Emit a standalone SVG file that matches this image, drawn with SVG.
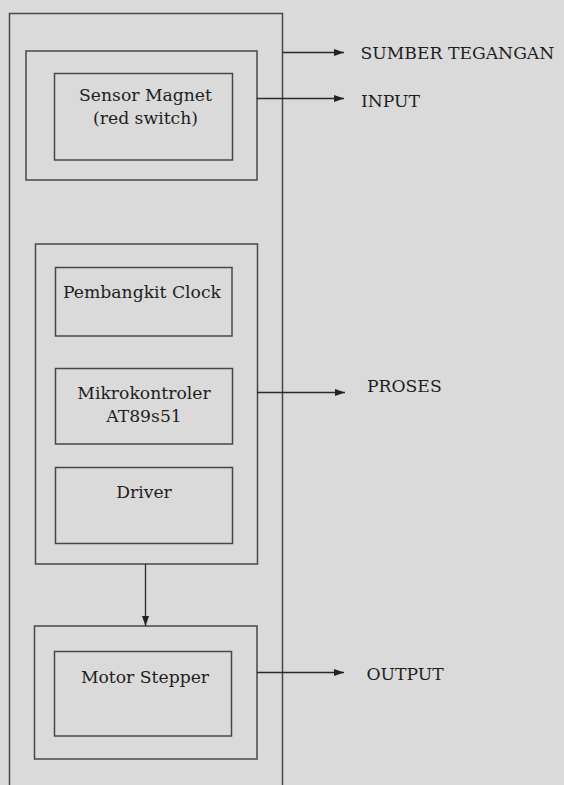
<svg xmlns="http://www.w3.org/2000/svg" width="564" height="785" viewBox="0 0 564 785">
<defs>
<style>
.box{fill:none;stroke:#474747;stroke-width:1.5}
.ln{fill:none;stroke:#2a2a2a;stroke-width:1.3}
.t{font-family:"DejaVu Serif","Liberation Serif",serif;font-size:17.2px;fill:#1e1e1e}
.c{text-anchor:middle}
</style>
<marker id="ah" viewBox="0 0 10 10" refX="10" refY="5" markerWidth="10" markerHeight="10" markerUnits="userSpaceOnUse" orient="auto">
<path d="M0,1.5 L10,5 L0,8.5 Z" fill="#222"/>
</marker>
</defs>
<rect width="564" height="785" fill="#dadada"/>
<g id="sumber-tegangan">
<rect class="box" x="9.5" y="13.5" width="273" height="800"/>
</g>
<g id="input">
<rect class="box" x="26" y="51" width="231" height="129"/>
</g>
<g id="sensor-magnet">
<rect class="box" x="54.5" y="73.5" width="178" height="86.5"/>
<text class="t c" x="145.5" y="101">Sensor Magnet</text>
<text class="t c" x="145.5" y="124">(red switch)</text>
</g>
<g id="proses">
<rect class="box" x="35.5" y="244" width="222" height="320"/>
</g>
<g id="pembangkit-clock">
<rect class="box" x="55.5" y="267.5" width="176.5" height="68.5"/>
<text class="t c" x="142" y="298">Pembangkit Clock</text>
</g>
<g id="mikrokontroler">
<rect class="box" x="55.5" y="368.5" width="177" height="75.5"/>
<text class="t c" x="144" y="399">Mikrokontroler</text>
<text class="t c" x="144" y="422">AT89s51</text>
</g>
<g id="driver">
<rect class="box" x="55.5" y="467.5" width="177" height="76"/>
<text class="t c" x="144" y="498">Driver</text>
</g>
<g id="output">
<rect class="box" x="34.5" y="626" width="222.5" height="133"/>
</g>
<g id="motor-stepper">
<rect class="box" x="54.5" y="651.5" width="177" height="84.5"/>
<text class="t c" x="145" y="683">Motor Stepper</text>
</g>
<g id="labels">
<text class="t" x="360.5" y="58.5">SUMBER TEGANGAN</text>
<text class="t" x="361" y="107">INPUT</text>
<text class="t" x="367" y="392">PROSES</text>
<text class="t" x="366.5" y="680">OUTPUT</text>
</g>
<g id="connectors">
<line class="ln" x1="283" y1="52.5" x2="344" y2="52.5" marker-end="url(#ah)"/>
<line class="ln" x1="257" y1="98.5" x2="344" y2="98.5" marker-end="url(#ah)"/>
<line class="ln" x1="257" y1="392.5" x2="345" y2="392.5" marker-end="url(#ah)"/>
<line class="ln" x1="257" y1="672.5" x2="344" y2="672.5" marker-end="url(#ah)"/>
<line class="ln" x1="145.5" y1="564" x2="145.5" y2="626" marker-end="url(#ah)"/>
</g>
</svg>
